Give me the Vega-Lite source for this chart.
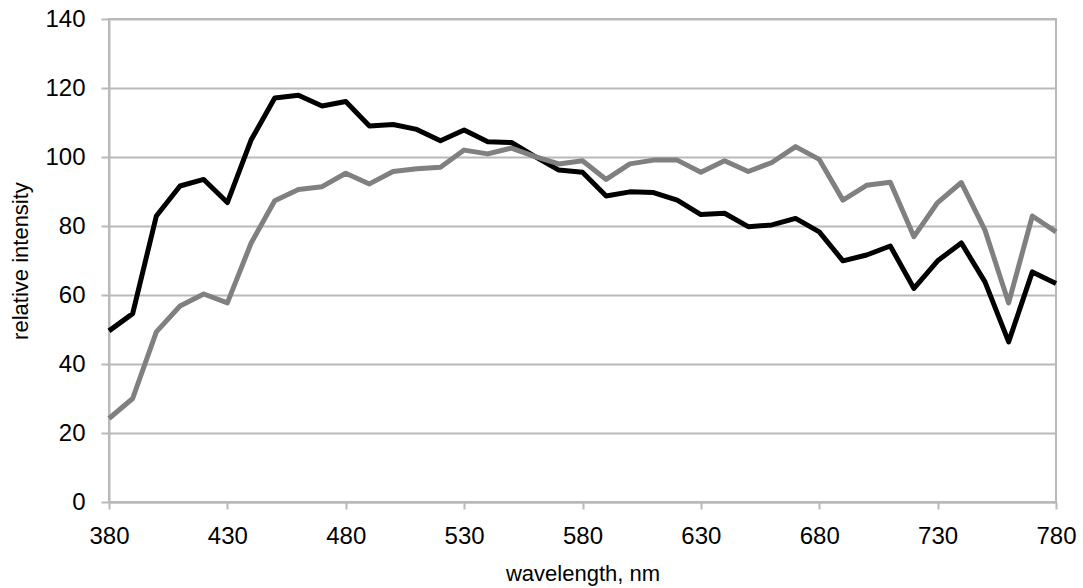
{
  "$schema": "https://vega.github.io/schema/vega-lite/v6.json",
  "width": 947,
  "height": 483,
  "autosize": {"type": "none"},
  "padding": {"left": 109, "top": 19, "right": 27, "bottom": 86},
  "background": "white",
  "config": {
    "view": {"stroke": "#b9b9b9", "strokeWidth": 2},
    "font": "Liberation Sans"
  },
  "data": {
    "values": [
      {"wl": 380, "s": "a", "v": 49.6}, {"wl": 390, "s": "a", "v": 54.6}, {"wl": 400, "s": "a", "v": 82.9}, {"wl": 410, "s": "a", "v": 91.6}, {"wl": 420, "s": "a", "v": 93.5}, {"wl": 430, "s": "a", "v": 86.8}, {"wl": 440, "s": "a", "v": 104.9}, {"wl": 450, "s": "a", "v": 117.1}, {"wl": 460, "s": "a", "v": 117.9}, {"wl": 470, "s": "a", "v": 114.8}, {"wl": 480, "s": "a", "v": 116.1}, {"wl": 490, "s": "a", "v": 109.0}, {"wl": 500, "s": "a", "v": 109.4}, {"wl": 510, "s": "a", "v": 108.0}, {"wl": 520, "s": "a", "v": 104.7}, {"wl": 530, "s": "a", "v": 107.8}, {"wl": 540, "s": "a", "v": 104.4}, {"wl": 550, "s": "a", "v": 104.2}, {"wl": 560, "s": "a", "v": 100.1}, {"wl": 570, "s": "a", "v": 96.2}, {"wl": 580, "s": "a", "v": 95.6}, {"wl": 590, "s": "a", "v": 88.7}, {"wl": 600, "s": "a", "v": 89.9}, {"wl": 610, "s": "a", "v": 89.7}, {"wl": 620, "s": "a", "v": 87.5}, {"wl": 630, "s": "a", "v": 83.3}, {"wl": 640, "s": "a", "v": 83.7}, {"wl": 650, "s": "a", "v": 79.8}, {"wl": 660, "s": "a", "v": 80.3}, {"wl": 670, "s": "a", "v": 82.2}, {"wl": 680, "s": "a", "v": 78.3}, {"wl": 690, "s": "a", "v": 69.9}, {"wl": 700, "s": "a", "v": 71.6}, {"wl": 710, "s": "a", "v": 74.2}, {"wl": 720, "s": "a", "v": 61.9}, {"wl": 730, "s": "a", "v": 69.9}, {"wl": 740, "s": "a", "v": 75.1}, {"wl": 750, "s": "a", "v": 63.8}, {"wl": 760, "s": "a", "v": 46.4}, {"wl": 770, "s": "a", "v": 66.7}, {"wl": 780, "s": "a", "v": 63.3},
      {"wl": 380, "s": "b", "v": 24.2}, {"wl": 390, "s": "b", "v": 30.0}, {"wl": 400, "s": "b", "v": 49.3}, {"wl": 410, "s": "b", "v": 56.8}, {"wl": 420, "s": "b", "v": 60.3}, {"wl": 430, "s": "b", "v": 57.7}, {"wl": 440, "s": "b", "v": 75.0}, {"wl": 450, "s": "b", "v": 87.3}, {"wl": 460, "s": "b", "v": 90.6}, {"wl": 470, "s": "b", "v": 91.4}, {"wl": 480, "s": "b", "v": 95.3}, {"wl": 490, "s": "b", "v": 92.2}, {"wl": 500, "s": "b", "v": 95.8}, {"wl": 510, "s": "b", "v": 96.6}, {"wl": 520, "s": "b", "v": 97.0}, {"wl": 530, "s": "b", "v": 102.0}, {"wl": 540, "s": "b", "v": 100.9}, {"wl": 550, "s": "b", "v": 102.6}, {"wl": 560, "s": "b", "v": 100.1}, {"wl": 570, "s": "b", "v": 98.0}, {"wl": 580, "s": "b", "v": 98.9}, {"wl": 590, "s": "b", "v": 93.5}, {"wl": 600, "s": "b", "v": 98.0}, {"wl": 610, "s": "b", "v": 99.1}, {"wl": 620, "s": "b", "v": 99.1}, {"wl": 630, "s": "b", "v": 95.6}, {"wl": 640, "s": "b", "v": 98.9}, {"wl": 650, "s": "b", "v": 95.8}, {"wl": 660, "s": "b", "v": 98.4}, {"wl": 670, "s": "b", "v": 103.0}, {"wl": 680, "s": "b", "v": 99.3}, {"wl": 690, "s": "b", "v": 87.5}, {"wl": 700, "s": "b", "v": 91.8}, {"wl": 710, "s": "b", "v": 92.7}, {"wl": 720, "s": "b", "v": 76.9}, {"wl": 730, "s": "b", "v": 86.8}, {"wl": 740, "s": "b", "v": 92.6}, {"wl": 750, "s": "b", "v": 78.8}, {"wl": 760, "s": "b", "v": 57.7}, {"wl": 770, "s": "b", "v": 82.9}, {"wl": 780, "s": "b", "v": 78.3}
    ]
  },
  "mark": {"type": "line", "strokeWidth": 5, "strokeJoin": "round", "strokeCap": "butt"},
  "encoding": {
    "x": {
      "field": "wl", "type": "quantitative",
      "scale": {"domain": [380, 780], "nice": false, "zero": false},
      "axis": {
        "title": "wavelength, nm", "values": [380, 430, 480, 530, 580, 630, 680, 730, 780],
        "grid": false, "domainColor": "#b9b9b9", "domainWidth": 2,
        "tickColor": "#b9b9b9", "tickWidth": 2, "tickSize": 7,
        "labelFontSize": 24, "labelColor": "#000000", "labelPadding": 15, "labelFont": "Liberation Sans",
        "titleFontSize": 22, "titleFontWeight": "normal", "titleColor": "#000000", "titleFont": "Liberation Sans",
        "titleBaseline": "alphabetic", "titleY": 78.5, "labelFlush": false
      }
    },
    "y": {
      "field": "v", "type": "quantitative",
      "scale": {"domain": [0, 140], "nice": false},
      "axis": {
        "title": "relative intensity", "values": [0, 20, 40, 60, 80, 100, 120, 140],
        "grid": true, "gridColor": "#b9b9b9", "gridWidth": 2,
        "domainColor": "#b9b9b9", "domainWidth": 2,
        "tickColor": "#b9b9b9", "tickWidth": 2, "tickSize": 8,
        "labelFontSize": 24, "labelColor": "#000000", "labelPadding": 16, "labelFont": "Liberation Sans",
        "titleFontSize": 22, "titleFontWeight": "normal", "titleColor": "#000000", "titleFont": "Liberation Sans",
        "titleBaseline": "alphabetic", "titleX": -82, "titleY": 241.5, "titleAngle": 270, "labelFlush": false
      }
    },
    "color": {
      "field": "s", "type": "nominal",
      "scale": {"domain": ["a", "b"], "range": ["#000000", "#808080"]},
      "legend": null
    }
  }
}
